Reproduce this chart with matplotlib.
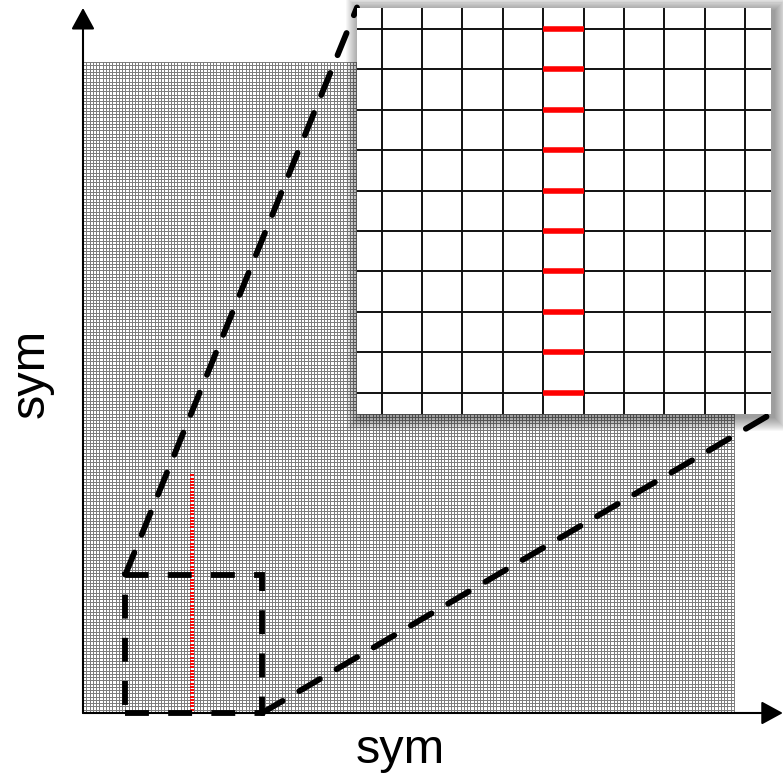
import numpy as np
import matplotlib
matplotlib.use("Agg")
import matplotlib.pyplot as plt
from matplotlib.patches import Rectangle, ConnectionPatch

plt.rcParams['font.family'] = ['Liberation Sans', 'DejaVu Sans']

# main mesh: cell lines 0..200 in both directions
grid_lines = list(range(0, 201))
# red marked column in the mesh (one short tick per row)
red_col = 33
red_rows = list(range(0, 74))
# dashed zoom window (cell units)
zoom_x = (13, 55)
zoom_y = (0, 42.5)
# inset: zoomed view of the marked column
inset_lines = list(range(0, 10))
inset_red_col = 4
inset_red_rows = list(range(0, 10))

W, H = 783, 777
fig = plt.figure(figsize=(W / 100, H / 100), dpi=100)
ax = fig.add_axes([0, 0, 1, 1])
px = 651 / 200.0
ax.set_xlim(-83 / px, (W - 83) / px)
ax.set_ylim(-64 / px, (H - 64) / px)
ax.axis('off')

gmax = grid_lines[-1]
ax.vlines(grid_lines, 0, gmax, color='#7a7a7a', lw=0.7, zorder=1)
ax.hlines(grid_lines, 0, gmax, color='#7a7a7a', lw=0.7, zorder=1)

ax.hlines(red_rows, red_col, red_col + 1, color='red', lw=1.4, zorder=2)

# axes with arrows
arrow = dict(arrowstyle='-|>,head_width=0.36,head_length=0.66',
             mutation_scale=20, lw=1.5, color='black',
             shrinkA=0, shrinkB=0)
ax.annotate('', xy=(215, 0), xytext=(0, 0), arrowprops=arrow, zorder=4)
ax.annotate('', xy=(0, 216.6), xytext=(0, 0), arrowprops=arrow, zorder=4)

dash = (0, (4.1, 3.3))
ax.add_patch(Rectangle((zoom_x[0], zoom_y[0]), zoom_x[1] - zoom_x[0],
                       zoom_y[1] - zoom_y[0], fill=False, ec='black',
                       lw=4.2, ls=dash, zorder=5))

# inset
ix0, iy0, iw, ih = 357 / W, 1 - 414 / H, 414 / W, 406.5 / H
for i in range(1, 15):
    fig.patches.append(Rectangle((ix0 - i / W + 3 / W, iy0 - i / H - 3 / H),
                                 iw + 2 * i / W, ih + 2 * i / H,
                                 transform=fig.transFigure, color='black',
                                 alpha=0.03, lw=0, zorder=2.5))
axins = fig.add_axes([ix0, iy0, iw, ih], zorder=3)
axins.set_xlim(-0.61, 9.64)
axins.set_ylim(-0.52, 9.52)
axins.set_xticks([])
axins.set_yticks([])
for s in axins.spines.values():
    s.set_visible(False)
axins.vlines(inset_lines, -1, 11, color='#111111', lw=1.4)
axins.hlines(inset_lines, -1, 11, color='#111111', lw=1.4)
axins.hlines(inset_red_rows, inset_red_col, inset_red_col + 1,
             color='red', lw=4.0, zorder=3)

for pa, pb in [((zoom_x[0], zoom_y[1]), (0, 1)), ((zoom_x[1], zoom_y[0]), (1, 0))]:
    con = ConnectionPatch(xyA=pa, coordsA=ax.transData, xyB=pb,
                          coordsB=axins.transAxes, color='black', lw=4.2,
                          ls=dash, zorder=2)
    fig.add_artist(con)

fig.text(400 / W, 14 / H, 'sym', ha='center', va='baseline', fontsize=35)
fig.text(31 / W, 1 - 373 / H, 'sym', ha='center', va='center',
         rotation=90, fontsize=35)

fig.savefig('out.png', dpi=100)
